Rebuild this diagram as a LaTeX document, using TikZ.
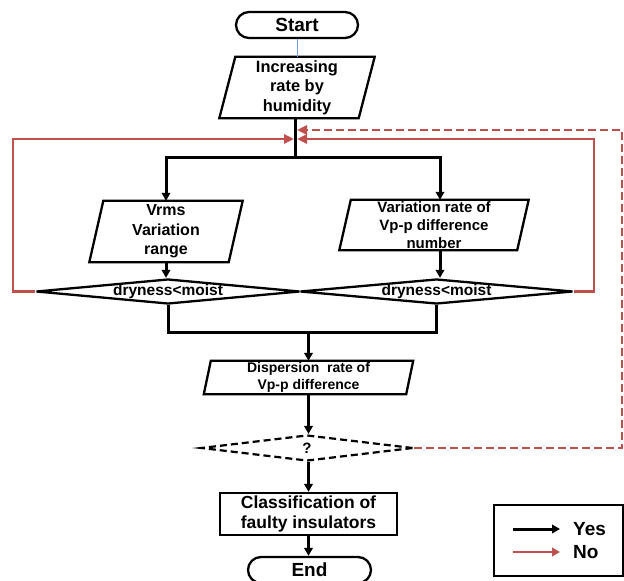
\documentclass[tikz,border=0pt]{standalone}
\usepackage{fontspec}
\setmainfont{Liberation Sans}
\usetikzlibrary{shapes.geometric,arrows.meta,calc}
\definecolor{nored}{HTML}{C0504D}
\definecolor{thinblue}{HTML}{6FA0DC}
\begin{document}
\begin{tikzpicture}[x=1pt,y=-1pt,
  border/.style={draw=black,line width=2.3pt},
  box/.style={inner sep=0pt,align=center},
  startend/.style={box,draw=black,line width=2.3pt,rounded corners=13pt,
    font=\bfseries\fontsize{19}{22}\selectfont},
  decision/.style={diamond,draw=black,line width=2.3pt,inner sep=0pt},
  dtext/.style={font=\bfseries\fontsize{15.5}{18}\selectfont,inner sep=0pt},
  yesline/.style={draw=black,line width=3pt},
  yes/.style={yesline,-{Triangle[length=8pt,width=8.5pt]}},
  noline/.style={draw=nored,line width=2.5pt},
  no/.style={noline,-{Triangle[length=10pt,width=9pt]}},
  nodash/.style={no,dash pattern=on 8pt off 4pt},
  legtext/.style={anchor=west,inner sep=0pt,font=\bfseries\fontsize{19}{22}\selectfont},
]
\useasboundingbox (0,0) rectangle (624,581);

% nodes
\node[startend,minimum width=122pt,minimum height=26pt] (start) at (297,25) {Start};

\node[box,minimum width=155pt,minimum height=61pt,
  font=\bfseries\fontsize{16.4}{19.5}\selectfont] (p1) at (297,87.5) {Increasing\\rate by\\humidity};
\draw[border] ([xshift=16pt]p1.north west) -- (p1.north east) -- ([xshift=-16pt]p1.south east) -- (p1.south west) -- cycle;

\node[box,minimum width=153pt,minimum height=61pt,
  font=\bfseries\fontsize{16}{19.5}\selectfont] (lp) at (166,231.5) {Vrms\\Variation\\range};
\draw[border] ([xshift=14pt]lp.north west) -- (lp.north east) -- ([xshift=-14pt]lp.south east) -- (lp.south west) -- cycle;

\node[box,minimum width=189pt,minimum height=50pt,
  font=\bfseries\fontsize{15}{18.3}\selectfont] (rp) at (434,225) {Variation rate of\\Vp-p difference\\number};
\draw[border] ([xshift=11.5pt]rp.north west) -- (rp.north east) -- ([xshift=-11.5pt]rp.south east) -- (rp.south west) -- cycle;

\node[decision,minimum width=264pt,minimum height=25pt,
  label={[dtext]center:dryness<moist}] (d1) at (168,291.5) {};
\node[decision,minimum width=273pt,minimum height=25pt,
  label={[dtext]center:dryness<moist}] (d2) at (436.5,291.5) {};

\node[box,minimum width=209pt,minimum height=33pt,
  font=\bfseries\fontsize{14}{17}\selectfont] (p3) at (308.5,377.5) {Dispersion\ \ rate of\\Vp-p difference};
\draw[border] ([xshift=7pt]p3.north west) -- (p3.north east) -- ([xshift=-7pt]p3.south east) -- (p3.south west) -- cycle;

\node[decision,line width=2.2pt,dash pattern=on 7pt off 4pt,minimum width=212pt,minimum height=26pt,
  label={[inner sep=0pt,font=\bfseries\fontsize{15}{18}\selectfont]center:?}] (d3) at (307,448) {};

\node[box,draw=black,line width=2.3pt,minimum width=177pt,minimum height=42pt,
  font=\bfseries\fontsize{17.5}{20.7}\selectfont] (cls) at (308.5,514) {Classification of\\faulty insulators};

\node[startend,minimum width=123pt,minimum height=26pt] (end) at (309.5,570) {End};

% legend
\node[draw=black,line width=2.2pt,minimum width=129pt,minimum height=71pt,inner sep=0pt] (leg) at (558.5,540.5) {};
\coordinate (ya) at (513,529);
\coordinate (yb) at (560,529);
\coordinate (na) at (513,552);
\coordinate (nb) at (560,552);
\draw[yes] (ya) -- (yb);
\draw[no,-{Triangle[length=8pt,width=8.5pt]}] (na) -- (nb);
\node[legtext] (yestext) at (573,529.5) {Yes};
\node[legtext] (notext) at (573,552.5) {No};

% connectors
\draw[draw=thinblue,line width=0.8pt] (start.south) -- (start.south |- p1.north);

\coordinate (j1) at (295.5,157);
\coordinate (cL) at (295.5,139);
\coordinate (cD) at (295.5,130);
\draw[yesline] (p1.south -| j1) -- (j1);
\draw[yes] (j1) -| (lp.north);
\draw[yes] (j1) -| ([xshift=6pt]rp.north);
\draw[yes] (lp.south) -- (lp.south |- d1.north);
\draw[yes] ([xshift=6pt]rp.south) -- ([xshift=6pt]rp.south |- d2.north);

\coordinate (j2) at (308.5,332);
\draw[yesline] (d1.south) |- (j2) -| (d2.south);
\draw[yes] (j2) -- (p3.north);
\draw[yes] (p3.south) -- (p3.south |- d3.north);
\draw[yes] (cls.north |- d3.south) -- (cls.north);
\draw[yes] (cls.south) -- (cls.south |- end.north);

\draw[no] (d1.west) -- ++(-22,0) |- ([xshift=-1.5pt]cL);
\draw[no] (d2.east) -- ++(20,0) |- ([xshift=1.5pt]cL);
\draw[nodash] (d3.east) -- ++(208,0) |- ([xshift=1.5pt]cD);
\end{tikzpicture}
\end{document}
